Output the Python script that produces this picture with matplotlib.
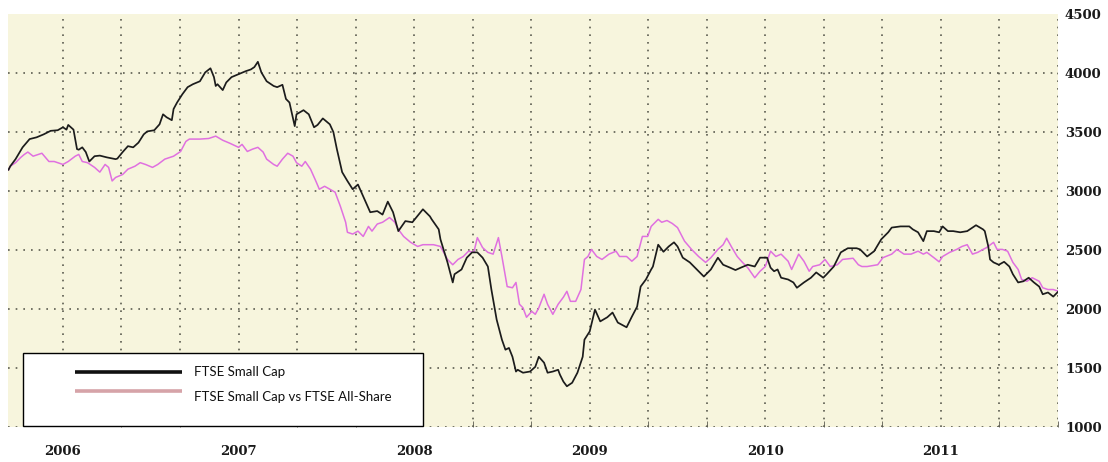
import matplotlib
matplotlib.use("Agg")
import matplotlib.pyplot as plt
from matplotlib.lines import Line2D
from matplotlib.patches import Rectangle

# FTSE Small Cap (decimal year, index level)
small_cap_t = [
    2005.69, 2005.70, 2005.73, 2005.77, 2005.81, 2005.85, 2005.89, 2005.93, 2005.97, 2006.00,
    2006.02, 2006.03, 2006.06, 2006.08, 2006.09, 2006.11, 2006.13, 2006.15, 2006.18, 2006.21,
    2006.25, 2006.30, 2006.31, 2006.34, 2006.37, 2006.40, 2006.43, 2006.46, 2006.48, 2006.52,
    2006.55, 2006.57, 2006.59, 2006.62, 2006.63, 2006.65, 2006.68, 2006.71, 2006.74, 2006.78,
    2006.81, 2006.84, 2006.86, 2006.87, 2006.88, 2006.91, 2006.93, 2006.96, 2007.00, 2007.04,
    2007.07, 2007.09, 2007.11, 2007.13, 2007.16, 2007.20, 2007.22, 2007.25, 2007.27, 2007.29,
    2007.32, 2007.33, 2007.37, 2007.40, 2007.43, 2007.45, 2007.48, 2007.52, 2007.54, 2007.56,
    2007.59, 2007.62, 2007.65, 2007.68, 2007.71, 2007.75, 2007.79, 2007.82, 2007.85, 2007.88,
    2007.91, 2007.95, 2007.99, 2008.05, 2008.09, 2008.10, 2008.14, 2008.15, 2008.19, 2008.22,
    2008.23, 2008.27, 2008.30, 2008.33, 2008.36, 2008.39, 2008.42, 2008.44, 2008.47, 2008.50,
    2008.52, 2008.54, 2008.56, 2008.58, 2008.59, 2008.62, 2008.66, 2008.69, 2008.71, 2008.74,
    2008.76, 2008.79, 2008.82, 2008.83, 2008.85, 2008.87, 2008.90, 2008.93, 2008.96, 2008.97,
    2009.00, 2009.03, 2009.06, 2009.10, 2009.13, 2009.16, 2009.21, 2009.24, 2009.27, 2009.29,
    2009.32, 2009.35, 2009.36, 2009.39, 2009.42, 2009.45, 2009.48, 2009.50, 2009.53, 2009.57,
    2009.61, 2009.65, 2009.69, 2009.73, 2009.76, 2009.80, 2009.83, 2009.86, 2009.90, 2009.94,
    2009.97, 2010.01, 2010.03, 2010.05, 2010.07, 2010.09, 2010.13, 2010.16, 2010.18, 2010.22,
    2010.26, 2010.29, 2010.33, 2010.35, 2010.39, 2010.43, 2010.47, 2010.52, 2010.54, 2010.58,
    2010.62, 2010.66, 2010.70, 2010.72, 2010.77, 2010.82, 2010.84, 2010.87, 2010.90, 2010.92,
    2010.96, 2010.99, 2011.01, 2011.04, 2011.07, 2011.11, 2011.15, 2011.20, 2011.24, 2011.25,
    2011.27, 2011.28, 2011.30, 2011.33, 2011.36, 2011.39, 2011.41, 2011.44, 2011.47, 2011.50,
    2011.53, 2011.56, 2011.58, 2011.61, 2011.64, 2011.67,
]
small_cap_v = [
    3180, 3210, 3270, 3370, 3440, 3455, 3480, 3510, 3515, 3540,
    3520, 3560, 3520, 3355, 3350, 3370, 3330, 3250, 3295, 3300,
    3285, 3270, 3275, 3330, 3380, 3370, 3410, 3480, 3505, 3515,
    3565, 3650, 3625, 3600, 3695, 3750, 3820, 3880, 3905, 3930,
    4005, 4040, 3965, 3890, 3905, 3855, 3920, 3965, 3990, 4015,
    4030, 4050, 4095, 4005, 3930, 3890, 3880, 3900, 3780, 3750,
    3550, 3650, 3685, 3650, 3540, 3560, 3615, 3565, 3500, 3355,
    3160, 3085, 3015, 3055, 2955, 2820, 2830, 2800, 2910, 2820,
    2660, 2745, 2735, 2845, 2785, 2760, 2675, 2590, 2395, 2225,
    2295, 2335, 2435, 2480, 2480, 2435, 2360, 2165, 1910, 1740,
    1655, 1670, 1595, 1470, 1485, 1460, 1470, 1510, 1595, 1545,
    1460, 1470, 1485, 1445, 1385, 1345, 1375, 1460, 1595, 1740,
    1810, 1995, 1895, 1930, 1970, 1885, 1845, 1935, 2020, 2190,
    2250, 2335, 2360, 2545, 2485, 2530, 2565, 2530, 2435, 2395,
    2335, 2275, 2335, 2435, 2375, 2350, 2330, 2350, 2375, 2360,
    2435, 2435, 2350, 2320, 2335, 2265, 2250, 2225, 2180, 2225,
    2265, 2310, 2265, 2295, 2360, 2480, 2515, 2515, 2505, 2445,
    2490, 2590, 2650, 2690, 2700, 2700, 2675, 2650, 2575, 2660,
    2660, 2650, 2700, 2660, 2660, 2650, 2660, 2710, 2675, 2660,
    2530, 2420, 2395, 2375, 2400, 2360, 2295, 2225, 2235, 2265,
    2225, 2190, 2125, 2140, 2105, 2150,
]

# FTSE Small Cap vs FTSE All-Share (relative, rebased)
relative_t = [
    2005.69, 2005.70, 2005.73, 2005.76, 2005.78, 2005.80, 2005.83, 2005.88, 2005.92, 2005.95,
    2006.00, 2006.03, 2006.07, 2006.09, 2006.11, 2006.14, 2006.18, 2006.21, 2006.24, 2006.26,
    2006.28, 2006.30, 2006.34, 2006.37, 2006.41, 2006.44, 2006.47, 2006.51, 2006.54, 2006.58,
    2006.63, 2006.67, 2006.70, 2006.72, 2006.78, 2006.83, 2006.87, 2006.91, 2006.95, 2007.00,
    2007.02, 2007.05, 2007.08, 2007.11, 2007.14, 2007.16, 2007.20, 2007.22, 2007.25, 2007.28,
    2007.31, 2007.33, 2007.36, 2007.38, 2007.41, 2007.44, 2007.46, 2007.49, 2007.52, 2007.55,
    2007.58, 2007.61, 2007.62, 2007.65, 2007.68, 2007.71, 2007.74, 2007.76, 2007.79, 2007.82,
    2007.86, 2007.89, 2007.91, 2007.94, 2007.98, 2008.02, 2008.05, 2008.11, 2008.15, 2008.19,
    2008.22, 2008.25, 2008.28, 2008.31, 2008.34, 2008.36, 2008.39, 2008.42, 2008.45, 2008.48,
    2008.50, 2008.53, 2008.56, 2008.58, 2008.60, 2008.62, 2008.64, 2008.67, 2008.69, 2008.71,
    2008.74, 2008.76, 2008.79, 2008.82, 2008.85, 2008.87, 2008.89, 2008.92, 2008.95, 2008.97,
    2008.99, 2009.01, 2009.04, 2009.07, 2009.11, 2009.15, 2009.17, 2009.21, 2009.24, 2009.27,
    2009.30, 2009.33, 2009.35, 2009.39, 2009.41, 2009.44, 2009.47, 2009.50, 2009.54, 2009.58,
    2009.62, 2009.66, 2009.69, 2009.73, 2009.76, 2009.78, 2009.81, 2009.84, 2009.87, 2009.90,
    2009.94, 2009.97, 2010.00, 2010.03, 2010.06, 2010.09, 2010.13, 2010.15, 2010.19, 2010.22,
    2010.25, 2010.27, 2010.31, 2010.34, 2010.37, 2010.41, 2010.44, 2010.50, 2010.53, 2010.55,
    2010.58, 2010.64, 2010.67, 2010.72, 2010.75, 2010.79, 2010.83, 2010.87, 2010.90, 2010.92,
    2010.96, 2010.99, 2011.01, 2011.05, 2011.09, 2011.12, 2011.15, 2011.18, 2011.21, 2011.24,
    2011.26, 2011.30, 2011.32, 2011.35, 2011.38, 2011.41, 2011.44, 2011.46, 2011.49, 2011.52,
    2011.56, 2011.58, 2011.61, 2011.64, 2011.67,
]
relative_v = [
    3180, 3210, 3240, 3285, 3310, 3330, 3295, 3320, 3250, 3250,
    3225, 3250, 3295, 3310, 3250, 3240, 3200, 3160, 3225, 3200,
    3085, 3115, 3140, 3185, 3210, 3240, 3225, 3200, 3225, 3270,
    3295, 3335, 3420, 3440, 3440, 3445, 3465, 3430, 3405, 3370,
    3395, 3335, 3355, 3370, 3330, 3270, 3225, 3210, 3270, 3320,
    3295, 3240, 3210, 3250, 3185, 3085, 3015, 3040, 3015, 2990,
    2870, 2735, 2650, 2635, 2660, 2615, 2700, 2660, 2720, 2735,
    2775, 2735, 2675, 2615, 2565, 2530, 2545, 2545, 2530, 2420,
    2375, 2420, 2445, 2490, 2480, 2605, 2520, 2480, 2465, 2605,
    2445, 2190, 2180, 2225, 2040, 2010, 1930, 1980, 1955, 2010,
    2125, 2040, 1955, 2040, 2100, 2150, 2065, 2065, 2165, 2420,
    2445, 2505, 2445, 2420, 2465, 2490, 2445, 2445, 2405, 2445,
    2615, 2615, 2700, 2760, 2735, 2750, 2725, 2690, 2575, 2505,
    2445, 2395, 2435, 2505, 2545, 2600, 2520, 2445, 2395, 2350,
    2265, 2320, 2360, 2490, 2445, 2465, 2405, 2335, 2465, 2405,
    2320, 2360, 2375, 2420, 2360, 2375, 2420, 2430, 2375, 2360,
    2360, 2375, 2435, 2465, 2505, 2465, 2465, 2490, 2465, 2480,
    2435, 2400, 2445, 2480, 2505, 2530, 2545, 2465, 2480, 2505,
    2520, 2565, 2505, 2505, 2490, 2395, 2335, 2250, 2235, 2265,
    2235, 2180, 2165, 2165, 2150,
]

years = [2006, 2007, 2008, 2009, 2010, 2011]
y_ticks = [1000, 1500, 2000, 2500, 3000, 3500, 4000, 4500]
legend_labels = ["FTSE Small Cap", "FTSE Small Cap vs FTSE All-Share"]

BG = "#f7f5dd"
GRID = "#5c5c50"
DOT = (0, (1, 3.6))

fig = plt.figure(figsize=(11.08, 4.62), dpi=100)
ax = fig.add_axes([8 / 1108, 1 - 427 / 462, 1050 / 1108, 413 / 462])
ax.set_facecolor(BG)

# dotted grid: every 4 months across, every 500 up (none at 4500)
x_grid = [2006 + k / 3 for k in range(18)]
for xg in x_grid:
    ax.axvline(xg, color=GRID, linestyle=DOT, lw=1.2, zorder=1)
for yg in y_ticks[:-1]:
    ax.axhline(yg, color=GRID, linestyle=DOT, lw=1.2, zorder=1)

ax.plot(relative_t, relative_v, color="#e070e0", lw=1.1, zorder=3)
ax.plot(small_cap_t, small_cap_v, color="#1c1c1c", lw=1.25, zorder=4)

ax.set_xlim(2005.687, 2011.667)
ax.set_ylim(1000, 4500)

ax.set_xticks(x_grid, minor=True)
ax.set_xticks(years)
ax.set_xticklabels([str(y) for y in years])
ax.yaxis.tick_right()
ax.set_yticks(y_ticks)
ax.tick_params(axis="x", which="major", length=0, pad=13)
ax.tick_params(axis="x", which="minor", direction="in", length=4, color=GRID)
ax.tick_params(axis="y", which="both", length=0, pad=5)
for lab in ax.get_xticklabels() + ax.get_yticklabels():
    lab.set_fontfamily("DejaVu Serif")
    lab.set_fontsize(9.5)
    lab.set_fontweight("bold")
    lab.set_color("#1a1a1a")

for s in ax.spines.values():
    s.set_visible(False)

# legend box drawn by hand to match the original frame
tr = ax.transAxes
def ax_xy(px, py):
    return (px - 8) / 1050, (427 - py) / 413

x0, y0 = ax_xy(23, 426)
x1, y1 = ax_xy(423, 353)
ax.add_patch(Rectangle((x0, y0), x1 - x0, y1 - y0, transform=tr, clip_on=False,
                       facecolor="white", edgecolor="black", lw=1.0, zorder=10))
for py, col, lbl, ty in [(372, "#111111", legend_labels[0], 372),
                         (391, "#d6a3a8", legend_labels[1], 397)]:
    ax.add_line(Line2D([ax_xy(75, py)[0], ax_xy(182, py)[0]],
                       [ax_xy(75, py)[1]] * 2, transform=tr,
                       color=col, lw=2.6, solid_capstyle="butt", zorder=11))
    tx, tyy = ax_xy(194, ty)
    ax.text(tx, tyy, lbl, transform=tr, fontsize=9.5, family="Lato",
            va="center", ha="left", color="#111111", zorder=11)

fig.savefig("out.png", dpi=100, facecolor="white")
